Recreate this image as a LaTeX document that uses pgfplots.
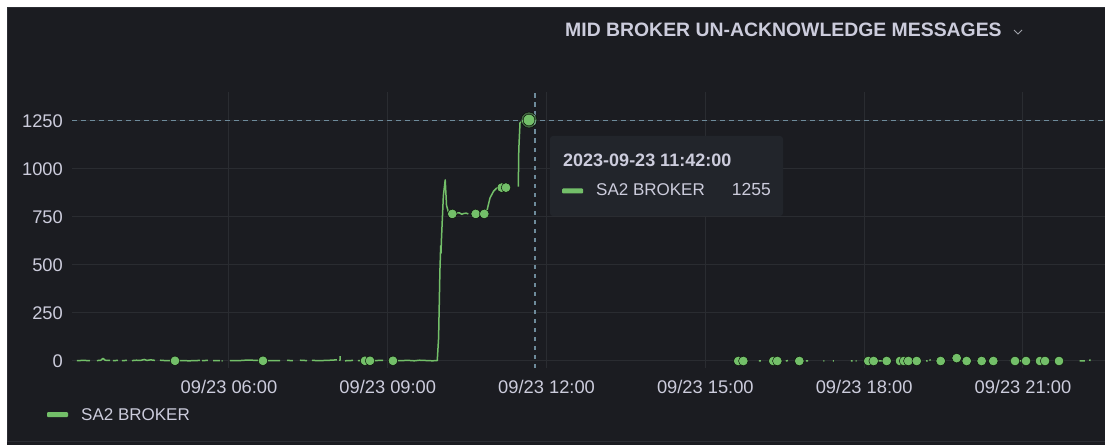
\documentclass[border=0pt]{standalone}
\usepackage{pgfplots}
\pgfplotsset{compat=1.18}
\usepackage{fontspec}
\setmainfont{Liberation Sans}
\definecolor{panelbg}{HTML}{1B1C21}
\definecolor{panelbd}{HTML}{2B2D33}
\definecolor{gridc}{HTML}{2A2C31}
\definecolor{txt}{HTML}{CCCCDC}
\definecolor{grn}{HTML}{73BF69}
\definecolor{crossc}{HTML}{6E8B9B}
\definecolor{tipbg}{HTML}{22252B}
\definecolor{chev}{HTML}{9FA1A8}
\begin{document}
\begin{tikzpicture}[x=1pt,y=1pt]
\path[use as bounding box] (0,0) rectangle (1105,445);
\fill[white] (0,0) rectangle (1105,445);
\fill[panelbg] (7,0) rectangle (1105,438);
\draw[panelbd, line width=1pt] (7.5,3.5) -- (7.5,437.5) -- (1106,437.5);
\draw[panelbd, line width=1pt] (7.5,3.5) -- (1106,3.5);
\begin{axis}[
  scale only axis,
  width=1033pt, height=276pt,
  at={(72pt,77pt)}, anchor=south west,
  xmin=3.034, xmax=22.55,
  ymin=-36.5, ymax=1401,
  axis line style={draw=none},
  major tick length=0pt,
  xtick={6,9,12,15,18,21},
  xticklabels={09/23 06:00,09/23 09:00,09/23 12:00,09/23 15:00,09/23 18:00,09/23 21:00},
  ytick={0,250,500,750,1000,1250},
  yticklabels={0,250,500,750,1000,1250},
  grid=major,
  major grid style={color=gridc, line width=1pt},
  every tick label/.append style={inner sep=0pt, text=txt, font=\fontsize{18.3}{20}\selectfont},
  xticklabel style={anchor=base, yshift=-25pt},
  yticklabel style={anchor=east, xshift=-9pt},
  unbounded coords=jump,
  clip=true,
]
% crosshair
\draw[crossc, line width=1.3pt, dash pattern=on 4.5pt off 4.5pt] (axis cs:11.781,-36.5) -- (axis cs:11.781,1401);
\draw[crossc, line width=1.3pt, dash pattern=on 4.5pt off 4.5pt] (axis cs:3.034,1252) -- (axis cs:22.55,1252);
% line segments (gaps as nan)
\addplot[grn, line width=1.5pt, line join=round, mark=none] coordinates {
(3.128,2) (3.25,3) (3.374,2) (3.38,nan)
(3.506,2) (3.58,4) (3.62,14) (3.66,4) (3.752,3) (3.76,nan)
(3.808,2) (3.903,3) (3.91,nan)
(3.978,2) (4.073,3) (4.08,nan)
(4.167,2) (4.25,4) (4.33,3) (4.40,8) (4.45,3) (4.52,6) (4.602,3) (4.61,nan)
(4.696,4) (4.8,2) (4.942,2) (4.98,1) (5.1,2) (5.25,1) (5.452,3) (5.46,nan)
(5.49,2) (5.603,3) (5.61,nan)
(5.698,2) (5.83,2) (5.84,nan)
(5.86,1) (5.88,1) (5.89,nan)
(6.019,2) (6.2,2) (6.35,5) (6.529,3) (6.642,1) (6.718,2) (6.964,2) (6.97,nan)
(7.096,3) (7.209,2) (7.22,nan)
(7.341,4) (7.474,2) (7.48,nan)
(7.568,3) (7.7,2) (7.85,3) (8.04,6) (8.05,nan)
(8.097,0) (8.098,25) (8.10,nan)
(8.192,1) (8.343,3) (8.35,nan)
(8.437,2) (8.513,2) (8.52,nan)
(8.664,2) (8.91,3) (8.92,nan)
(9.098,1) (9.193,2) (9.4,3) (9.5,1) (9.6,4) (9.76,2) (9.84,1) (9.935,2)
(9.96,120) (9.985,470) (10.0,600) (10.005,560) (10.015,640) (10.05,860) (10.085,943) (10.11,810) (10.143,778) (10.219,766) (10.3,770) (10.35,772) (10.4,764) (10.43,768) (10.48,770) (10.521,766) (10.53,nan)
(10.823,766) (10.88,790) (10.931,849) (11.0,885) (11.058,901) (11.152,903) (11.233,903) (11.24,nan)
(11.466,908) (11.475,1100) (11.498,1241) (11.56,1250) (11.668,1255) (11.67,nan)
(16.01,1) (16.05,1) (16.06,nan)
(16.52,0) (16.56,2) (16.57,nan)
(16.90,1) (16.94,1) (16.95,nan)
(17.23,0) (17.25,0) (17.26,nan)
(17.41,0) (17.43,0) (17.44,nan)
(17.75,0) (17.78,0) (17.79,nan)
(17.84,1) (17.86,1) (17.87,nan)
(18.205,2) (18.3,1) (18.426,1) (18.5,1) (18.51,nan)
(19.17,0) (19.2,1) (19.21,nan)
(19.24,8) (19.25,2) (19.26,nan)
(19.88,1) (19.937,1) (19.94,nan)
(20.755,2) (20.85,1) (21.058,1) (21.06,nan)
(21.681,1) (21.76,2) (21.77,nan)
(22.07,0) (22.17,1) (22.18,nan)
(22.265,0) (22.267,8)
};
% isolated points
\addplot[only marks, mark=*, mark size=4.8pt, mark options={fill=grn, draw=none}] coordinates {
(4.98,1) (6.642,1) (8.57,1) (8.664,1) (9.098,1)
(10.219,766) (10.661,766) (10.823,766) (11.152,903) (11.233,903)
(15.622,0) (15.717,0) (16.283,0) (16.359,0) (16.775,0)
(18.078,0) (18.18,0) (18.426,0) (18.677,0) (18.753,0) (18.834,0) (18.993,0)
(19.446,0) (19.748,15) (19.937,0) (20.22,0) (20.44,0) (20.85,0) (21.058,0)
(21.322,0) (21.417,0) (21.681,0)
};
% highlighted point
\addplot[only marks, mark=*, mark size=8pt, mark options={fill=grn, fill opacity=0.45, draw=none}] coordinates {(11.668,1255)};
\addplot[only marks, mark=*, mark size=5.8pt, mark options={fill=grn, draw=none}] coordinates {(11.668,1255)};
\end{axis}
% title
\node[anchor=base west, inner sep=0pt, text=txt, font=\fontsize{19.4}{22}\selectfont\bfseries] at (565,408) {MID BROKER UN-ACKNOWLEDGE MESSAGES};
\draw[chev, line width=1pt] (1014,415) -- (1018,411) -- (1022,415);
% tooltip
\fill[tipbg, rounded corners=3pt] (550,229) rectangle (783,309);
\node[anchor=base west, inner sep=0pt, text=txt, font=\fontsize{18}{20}\selectfont\bfseries] at (563,278) {2023-09-23 11:42:00};
\fill[grn, rounded corners=1pt] (562,251.5) rectangle (583,256.5);
\node[anchor=base west, inner sep=0pt, text=txt, font=\fontsize{17}{20}\selectfont] at (596,249.3) {SA2 BROKER};
\node[anchor=base east, inner sep=0pt, text=txt, font=\fontsize{17.5}{20}\selectfont] at (771,249.3) {1255};
% legend
\fill[grn, rounded corners=1pt] (47,28) rectangle (68,33);
\node[anchor=base west, inner sep=0pt, text=txt, font=\fontsize{17}{20}\selectfont] at (81,24.3) {SA2 BROKER};
\end{tikzpicture}
\end{document}
